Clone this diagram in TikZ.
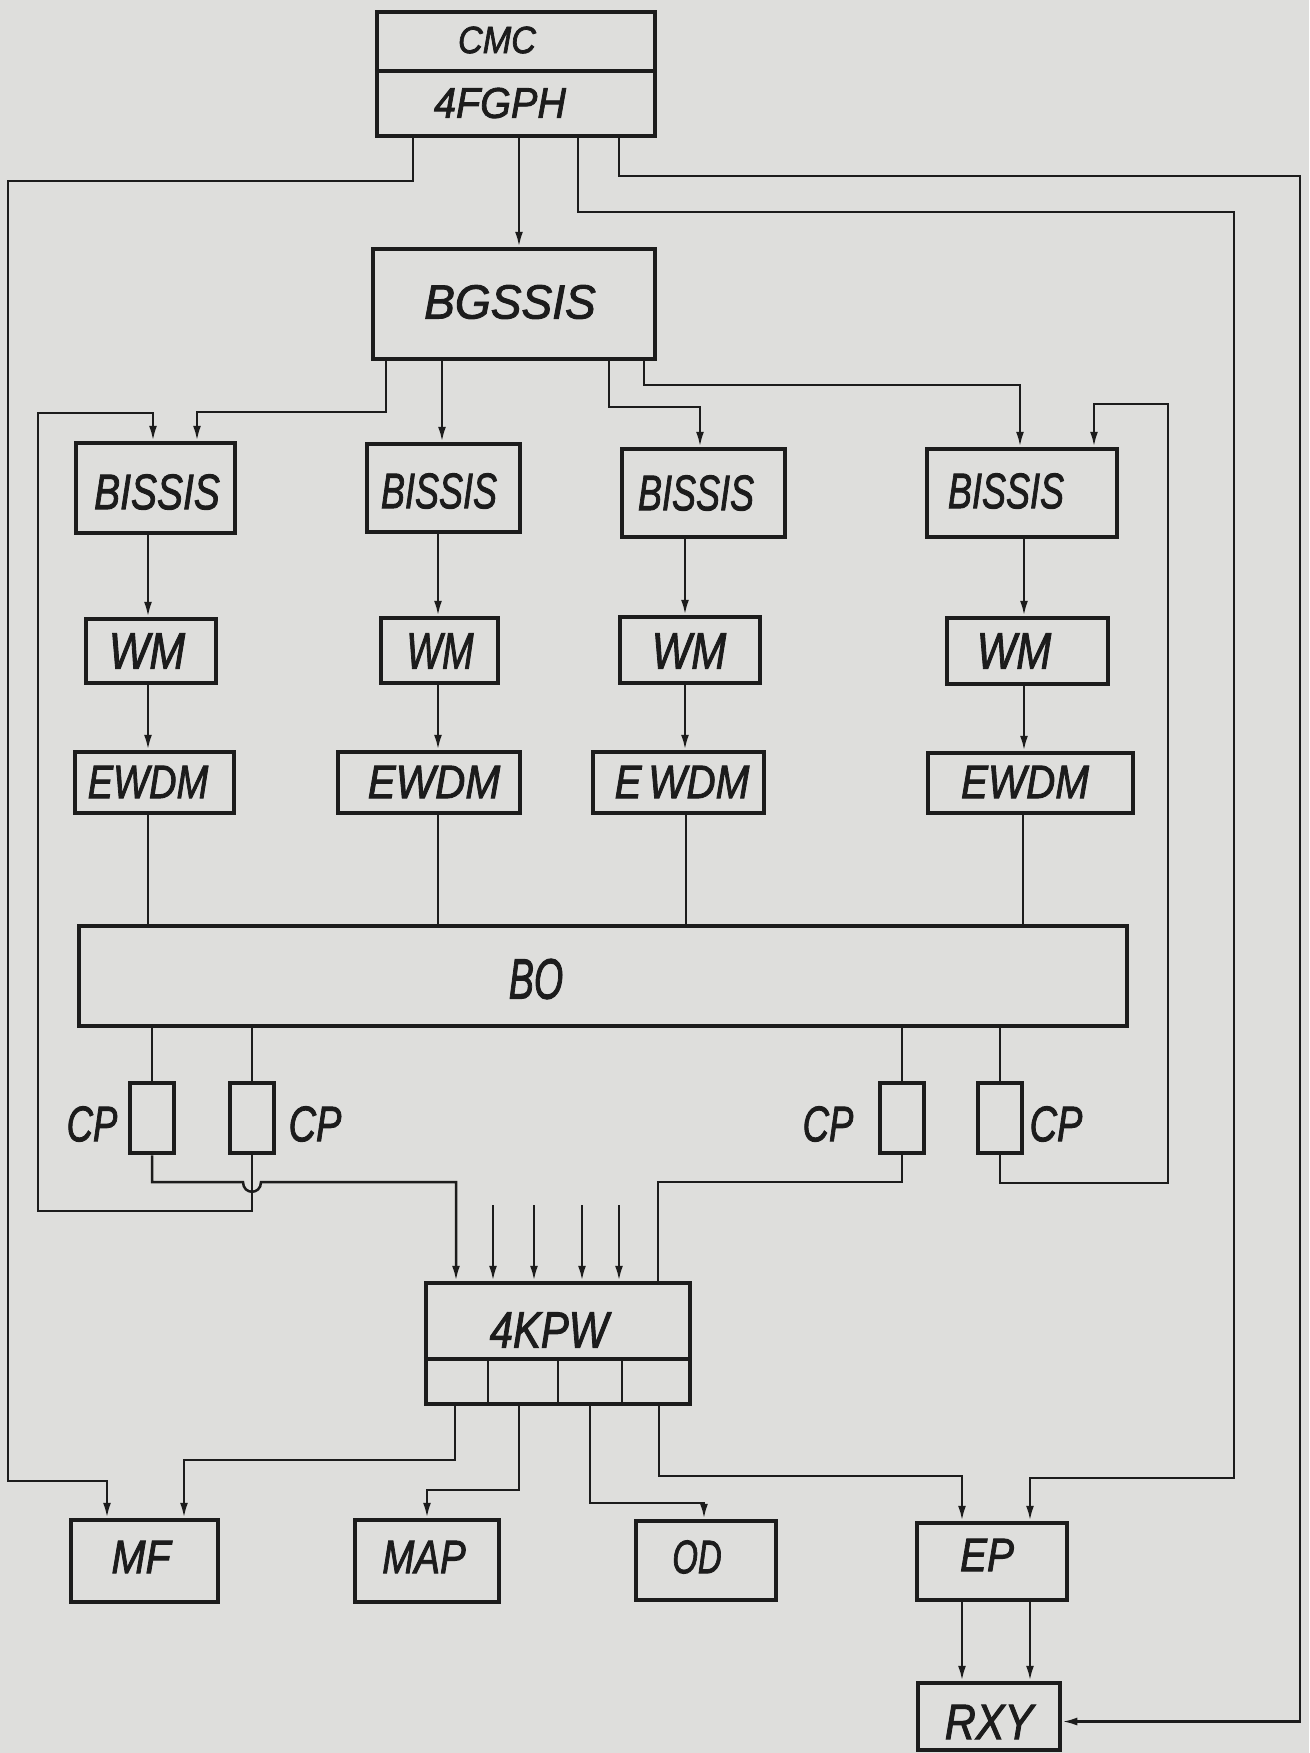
\documentclass[tikz,border=0pt]{standalone}
\usepackage{fontspec}
\usepackage{graphicx}
\usetikzlibrary{arrows.meta}
\newfontfamily\lf{Liberation Sans}[FakeBold=2]
\definecolor{ink}{RGB}{28,28,28}
\definecolor{paper}{RGB}{222,222,220}
\newcommand\lb[3]{{\lf\itshape\fontsize{#1}{#1}\selectfont\scalebox{#2}[1]{#3}}}
\tikzset{
  box/.style={draw=ink, line width=4.5pt, inner sep=0pt, fill=none},
  lab/.style={inner sep=0pt, text=ink},
  wire/.style={draw=ink, line width=2.5pt},
  arr/.style={wire, -{Latex[length=15pt,width=8pt]}},
  sep/.style={draw=ink, line width=4pt},
  cell/.style={draw=ink, line width=2.8pt}
}
\begin{document}
\begin{tikzpicture}[x=1pt,y=-1pt]
\useasboundingbox (0,0) rectangle (1309,1753);
\fill[paper] (0,0) rectangle (1309,1753);

% ---- boxes ----
\node[box, minimum width=278pt, minimum height=124pt] (cmc) at (516,74) {};
\node[box, minimum width=282pt, minimum height=110pt] (bgssis) at (514,304) {};
\node[box, minimum width=159pt, minimum height=90pt] (bissis1) at (155.5,488) {};
\node[box, minimum width=153pt, minimum height=88pt] (bissis2) at (443.5,488) {};
\node[box, minimum width=163pt, minimum height=88pt] (bissis3) at (703.5,493) {};
\node[box, minimum width=190pt, minimum height=88pt] (bissis4) at (1022,493) {};
\node[box, minimum width=130pt, minimum height=64pt] (wm1) at (151,651) {};
\node[box, minimum width=117pt, minimum height=65pt] (wm2) at (439.5,650.5) {};
\node[box, minimum width=140pt, minimum height=66pt] (wm3) at (690,650) {};
\node[box, minimum width=161pt, minimum height=66pt] (wm4) at (1027.5,651) {};
\node[box, minimum width=159pt, minimum height=61pt] (ewdm1) at (154.5,782.5) {};
\node[box, minimum width=182pt, minimum height=61pt] (ewdm2) at (429,782.5) {};
\node[box, minimum width=171pt, minimum height=61pt] (ewdm3) at (678.5,782.5) {};
\node[box, minimum width=205pt, minimum height=60pt] (ewdm4) at (1030.5,783) {};
\node[box, minimum width=1048pt, minimum height=100pt] (bo) at (603,976) {};
\node[box, minimum width=44pt, minimum height=70pt] (cp1) at (152,1118) {};
\node[box, minimum width=44pt, minimum height=70pt] (cp2) at (252,1118) {};
\node[box, minimum width=44pt, minimum height=70pt] (cp3) at (902,1118) {};
\node[box, minimum width=44pt, minimum height=70pt] (cp4) at (1000,1118) {};
\node[box, minimum width=264pt, minimum height=121pt] (kpw) at (558,1343.5) {};
\node[box, minimum width=147pt, minimum height=82pt] (mf) at (144.5,1561) {};
\node[box, minimum width=144pt, minimum height=82pt] (map) at (427,1561) {};
\node[box, minimum width=140pt, minimum height=79pt] (od) at (706,1560.5) {};
\node[box, minimum width=150pt, minimum height=77pt] (ep) at (992,1561.5) {};
\node[box, minimum width=142pt, minimum height=67pt] (rxy) at (989,1716.5) {};

% dividers
\draw[sep] (cmc.west |- 0,71) -- (cmc.east |- 0,71);
\draw[sep] (kpw.west |- 0,1359) -- (kpw.east |- 0,1359);
\draw[cell] (488,1359) -- (488,0 |- kpw.south);
\draw[cell] (558,1359) -- (558,0 |- kpw.south);
\draw[cell] (622,1359) -- (622,0 |- kpw.south);

% ---- labels ----
\node[lab] (t-cmc) at (497,40) {\lb{38}{0.9}{CMC}};
\node[lab] (t-fgph) at (500,103) {\lb{43}{0.92}{4FGPH}};
\node[lab] (t-bgssis) at (510,302) {\lb{48}{0.96}{BGSSIS}};
\node[lab] (t-bissis1) at (157,492) {\lb{50}{0.78}{BISSIS}};
\node[lab] (t-bissis2) at (439,491) {\lb{50}{0.72}{BISSIS}};
\node[lab] (t-bissis3) at (696,493) {\lb{50}{0.72}{BISSIS}};
\node[lab] (t-bissis4) at (1006,491) {\lb{50}{0.72}{BISSIS}};
\node[lab] (t-wm1) at (147,651) {\lb{51}{0.84}{WM}};
\node[lab] (t-wm2) at (440,651) {\lb{51}{0.74}{WM}};
\node[lab] (t-wm3) at (689,651) {\lb{51}{0.82}{WM}};
\node[lab] (t-wm4) at (1014,651) {\lb{51}{0.82}{WM}};
\node[lab] (t-ewdm1) at (148,782) {\lb{47}{0.81}{EWDM}};
\node[lab] (t-ewdm2) at (434,782) {\lb{47}{0.89}{EWDM}};
\node[lab] (t-ewdm3) at (682,782) {\lb{47}{0.86}{E\,WDM}};
\node[lab] (t-ewdm4) at (1025,782) {\lb{47}{0.86}{EWDM}};
\node[lab] (t-bo) at (536,979) {\lb{57}{0.66}{BO}};
\node[lab] (t-cp1) at (92,1124) {\lb{50}{0.73}{CP}};
\node[lab] (t-cp2) at (315,1124) {\lb{50}{0.76}{CP}};
\node[lab] (t-cp3) at (828,1124) {\lb{50}{0.73}{CP}};
\node[lab] (t-cp4) at (1056,1124) {\lb{50}{0.76}{CP}};
\node[lab] (t-kpw) at (549,1330) {\lb{51}{0.82}{4KPW}};
\node[lab] (t-mf) at (141,1557) {\lb{47}{0.87}{MF}};
\node[lab] (t-map) at (424,1557) {\lb{47}{0.82}{MAP}};
\node[lab] (t-od) at (697,1557) {\lb{47}{0.7}{OD}};
\node[lab] (t-ep) at (987,1555) {\lb{47}{0.86}{EP}};
\node[lab] (t-rxy) at (989,1722) {\lb{50}{0.86}{RXY}};

% ---- connectors from CMC ----
\draw[arr] (519,0 |- cmc.south) -- (519,0 |- bgssis.north);
\draw[arr] (413,0 |- cmc.south) |- (8,181) |- (107,1481) -- (107,0 |- mf.north);
\draw[arr] (578,0 |- cmc.south) |- (1234,212) |- (1030,1478) -- (1030,0 |- ep.north);
\draw[arr] (619,0 |- cmc.south) |- (1300,176) |- ([yshift=-5pt]rxy.east);

% ---- from BGSSIS ----
\draw[arr] (386,0 |- bgssis.south) |- (197,412) -- (197,0 |- bissis1.north);
\draw[arr] (442,0 |- bgssis.south) -- (442,0 |- bissis2.north);
\draw[arr] (609,0 |- bgssis.south) |- (700,407) -- (700,0 |- bissis3.north);
\draw[arr] (644,0 |- bgssis.south) |- (1020,385) -- (1020,0 |- bissis4.north);

% ---- columns ----
\draw[arr] (148,0 |- bissis1.south) -- (148,0 |- wm1.north);
\draw[arr] (438,0 |- bissis2.south) -- (438,0 |- wm2.north);
\draw[arr] (685,0 |- bissis3.south) -- (685,0 |- wm3.north);
\draw[arr] (1024,0 |- bissis4.south) -- (1024,0 |- wm4.north);
\draw[arr] (148,0 |- wm1.south) -- (148,0 |- ewdm1.north);
\draw[arr] (438,0 |- wm2.south) -- (438,0 |- ewdm2.north);
\draw[arr] (685,0 |- wm3.south) -- (685,0 |- ewdm3.north);
\draw[arr] (1024,0 |- wm4.south) -- (1024,0 |- ewdm4.north);
\draw[wire] (148,0 |- ewdm1.south) -- (148,0 |- bo.north);
\draw[wire] (438,0 |- ewdm2.south) -- (438,0 |- bo.north);
\draw[wire] (686,0 |- ewdm3.south) -- (686,0 |- bo.north);
\draw[wire] (1023,0 |- ewdm4.south) -- (1023,0 |- bo.north);

% ---- BO to CP ----
\draw[wire] (cp1.north |- bo.south) -- (cp1.north);
\draw[wire] (cp2.north |- bo.south) -- (cp2.north);
\draw[wire] (cp3.north |- bo.south) -- (cp3.north);
\draw[wire] (cp4.north |- bo.south) -- (cp4.north);

% ---- CP outputs ----
\draw[arr] (cp2.south) -- (252,1211) -| (38,413) -| (153,0 |- bissis1.north);
\draw[arr] (cp1.south) |- (243,1182) .. controls (243,1195) and (261,1195) .. (261,1182) -| (456,0 |- kpw.north);
\draw[wire] (cp3.south) |- (658,1182) -- (658,0 |- kpw.north);
\draw[arr] (cp4.south) |- (1168,1183) |- (1094,404) -- (1094,0 |- bissis4.north);

% ---- external inputs to 4KPW ----
\coordinate (in1) at (493,1205);
\coordinate (in2) at (534,1205);
\coordinate (in3) at (582,1205);
\coordinate (in4) at (619,1205);
\draw[arr] (in1) -- (in1 |- kpw.north);
\draw[arr] (in2) -- (in2 |- kpw.north);
\draw[arr] (in3) -- (in3 |- kpw.north);
\draw[arr] (in4) -- (in4 |- kpw.north);

% ---- 4KPW outputs ----
\draw[arr] (455,0 |- kpw.south) |- (184,1460) -- (184,0 |- mf.north);
\draw[arr] (519,0 |- kpw.south) |- (427,1490) -- (427,0 |- map.north);
\draw[arr] (590,0 |- kpw.south) |- (704,1503) -- (704,0 |- od.north);
\draw[arr] (659,0 |- kpw.south) |- (962,1476) -- (962,0 |- ep.north);

% ---- EP to RXY ----
\draw[arr] (962,0 |- ep.south) -- (962,0 |- rxy.north);
\draw[arr] (1030,0 |- ep.south) -- (1030,0 |- rxy.north);
\end{tikzpicture}
\end{document}
